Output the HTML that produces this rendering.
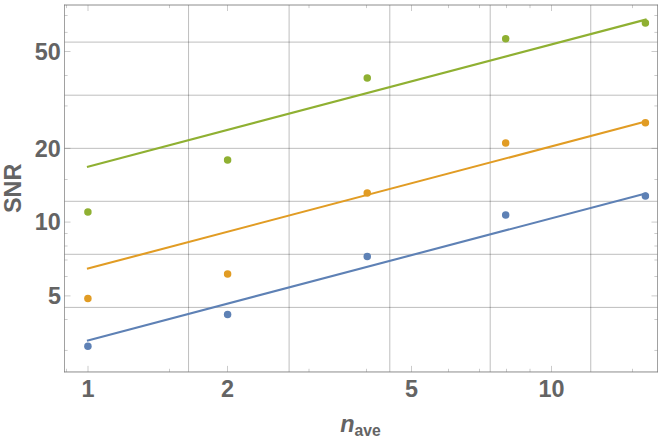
<!DOCTYPE html>
<html><head><meta charset="utf-8"><title>SNR vs n_ave</title>
<style>html,body{margin:0;padding:0;background:#fff;}body{width:664px;height:440px;overflow:hidden;font-family:"Liberation Sans",sans-serif;}svg{display:block;}.g path{vector-effect:non-scaling-stroke;}</style>
</head><body>
<svg width="664" height="440" viewBox="0 0 664 440" role="img" aria-label="Log-log plot of SNR versus n_ave with three data series and square-root fit lines">
<g stroke="#000" stroke-opacity="0.260" stroke-width="1.00" fill="none">
<line x1="188.55" y1="5.00" x2="188.55" y2="371.90"/>
<line x1="289.10" y1="5.00" x2="289.10" y2="371.90"/>
<line x1="389.80" y1="5.00" x2="389.80" y2="371.90"/>
<line x1="490.20" y1="5.00" x2="490.20" y2="371.90"/>
<line x1="590.75" y1="5.00" x2="590.75" y2="371.90"/>
<line x1="64.50" y1="42.10" x2="657.50" y2="42.10"/>
<line x1="64.50" y1="95.20" x2="657.50" y2="95.20"/>
<line x1="64.50" y1="148.35" x2="657.50" y2="148.35"/>
<line x1="64.50" y1="201.30" x2="657.50" y2="201.30"/>
<line x1="64.50" y1="254.30" x2="657.50" y2="254.30"/>
<line x1="64.50" y1="307.40" x2="657.50" y2="307.40"/>
</g>
<g stroke="#666" stroke-width="0.34" fill="none">
<line x1="66.50" y1="371.90" x2="66.50" y2="368.80"/>
<line x1="66.50" y1="5.00" x2="66.50" y2="8.10"/>
<line x1="88.00" y1="371.90" x2="88.00" y2="365.90"/>
<line x1="88.00" y1="5.00" x2="88.00" y2="11.00"/>
<line x1="169.50" y1="371.90" x2="169.50" y2="368.80"/>
<line x1="169.50" y1="5.00" x2="169.50" y2="8.10"/>
<line x1="227.50" y1="371.90" x2="227.50" y2="365.90"/>
<line x1="227.50" y1="5.00" x2="227.50" y2="11.00"/>
<line x1="309.00" y1="371.90" x2="309.00" y2="368.80"/>
<line x1="309.00" y1="5.00" x2="309.00" y2="8.10"/>
<line x1="366.50" y1="371.90" x2="366.50" y2="368.80"/>
<line x1="366.50" y1="5.00" x2="366.50" y2="8.10"/>
<line x1="411.50" y1="371.90" x2="411.50" y2="365.90"/>
<line x1="411.50" y1="5.00" x2="411.50" y2="11.00"/>
<line x1="448.50" y1="371.90" x2="448.50" y2="368.80"/>
<line x1="448.50" y1="5.00" x2="448.50" y2="8.10"/>
<line x1="479.50" y1="371.90" x2="479.50" y2="368.80"/>
<line x1="479.50" y1="5.00" x2="479.50" y2="8.10"/>
<line x1="506.50" y1="371.90" x2="506.50" y2="368.80"/>
<line x1="506.50" y1="5.00" x2="506.50" y2="8.10"/>
<line x1="530.00" y1="371.90" x2="530.00" y2="368.80"/>
<line x1="530.00" y1="5.00" x2="530.00" y2="8.10"/>
<line x1="551.50" y1="371.90" x2="551.50" y2="365.90"/>
<line x1="551.50" y1="5.00" x2="551.50" y2="11.00"/>
<line x1="632.50" y1="371.90" x2="632.50" y2="368.80"/>
<line x1="632.50" y1="5.00" x2="632.50" y2="8.10"/>
<line x1="64.50" y1="15.50" x2="67.60" y2="15.50"/>
<line x1="657.50" y1="15.50" x2="654.40" y2="15.50"/>
<line x1="64.50" y1="32.40" x2="67.60" y2="32.40"/>
<line x1="657.50" y1="32.40" x2="654.40" y2="32.40"/>
<line x1="64.50" y1="51.50" x2="70.50" y2="51.50"/>
<line x1="657.50" y1="51.50" x2="651.50" y2="51.50"/>
<line x1="64.50" y1="75.50" x2="67.60" y2="75.50"/>
<line x1="657.50" y1="75.50" x2="654.40" y2="75.50"/>
<line x1="64.50" y1="105.93" x2="67.60" y2="105.93"/>
<line x1="657.50" y1="105.93" x2="654.40" y2="105.93"/>
<line x1="64.50" y1="148.40" x2="70.50" y2="148.40"/>
<line x1="657.50" y1="148.40" x2="651.50" y2="148.40"/>
<line x1="64.50" y1="179.50" x2="67.60" y2="179.50"/>
<line x1="657.50" y1="179.50" x2="654.40" y2="179.50"/>
<line x1="64.50" y1="222.09" x2="70.50" y2="222.09"/>
<line x1="657.50" y1="222.09" x2="651.50" y2="222.09"/>
<line x1="64.50" y1="233.50" x2="67.60" y2="233.50"/>
<line x1="657.50" y1="233.50" x2="654.40" y2="233.50"/>
<line x1="64.50" y1="246.00" x2="67.60" y2="246.00"/>
<line x1="657.50" y1="246.00" x2="654.40" y2="246.00"/>
<line x1="64.50" y1="260.00" x2="67.60" y2="260.00"/>
<line x1="657.50" y1="260.00" x2="654.40" y2="260.00"/>
<line x1="64.50" y1="276.50" x2="67.60" y2="276.50"/>
<line x1="657.50" y1="276.50" x2="654.40" y2="276.50"/>
<line x1="64.50" y1="295.88" x2="70.50" y2="295.88"/>
<line x1="657.50" y1="295.88" x2="651.50" y2="295.88"/>
<line x1="64.50" y1="319.50" x2="67.60" y2="319.50"/>
<line x1="657.50" y1="319.50" x2="654.40" y2="319.50"/>
<line x1="64.50" y1="350.45" x2="67.60" y2="350.45"/>
<line x1="657.50" y1="350.45" x2="654.40" y2="350.45"/>
</g>
<g stroke="#666" fill="none" stroke-linecap="butt">
<line x1="64.50" y1="4.63" x2="64.50" y2="372.33" stroke-width="0.62"/>
<line x1="657.50" y1="4.63" x2="657.50" y2="372.33" stroke-width="0.62"/>
<line x1="64.19" y1="5.00" x2="657.81" y2="5.00" stroke-width="0.75"/>
<line x1="64.19" y1="371.96" x2="657.81" y2="371.96" stroke-width="0.75"/>
</g>
<g stroke-width="2.10" fill="none" stroke-linecap="butt">
<line x1="86.95" y1="340.72" x2="646.60" y2="193.17" stroke="#5E81B5"/>
<line x1="86.95" y1="268.82" x2="646.60" y2="121.27" stroke="#E19C24"/>
<line x1="86.95" y1="166.92" x2="646.60" y2="19.37" stroke="#8FB032"/>
</g>
<g fill="#5E81B5">
<circle cx="87.90" cy="346.25" r="3.75"/>
<circle cx="227.60" cy="314.50" r="3.75"/>
<circle cx="367.25" cy="256.60" r="3.75"/>
<circle cx="505.70" cy="215.00" r="3.75"/>
<circle cx="645.40" cy="196.00" r="3.75"/>
</g>
<g fill="#E19C24">
<circle cx="87.90" cy="298.50" r="3.75"/>
<circle cx="227.60" cy="274.00" r="3.75"/>
<circle cx="367.25" cy="193.10" r="3.75"/>
<circle cx="505.70" cy="142.90" r="3.75"/>
<circle cx="645.40" cy="122.75" r="3.75"/>
</g>
<g fill="#8FB032">
<circle cx="87.90" cy="212.00" r="3.75"/>
<circle cx="227.60" cy="160.00" r="3.75"/>
<circle cx="367.25" cy="77.90" r="3.75"/>
<circle cx="505.70" cy="38.75" r="3.75"/>
<circle cx="645.40" cy="23.10" r="3.75"/>
</g>
<g font-family="'Liberation Sans', sans-serif" font-weight="bold" font-size="23.4" fill="#646464" stroke="none">
<text x="60.9" y="303.8" text-anchor="end">5</text>
<text x="60.9" y="230.1" text-anchor="end">10</text>
<text x="60.9" y="156.75" text-anchor="end">20</text>
<text x="60.9" y="59.5" text-anchor="end">50</text>
<text x="88.0" y="396.8" text-anchor="middle">1</text>
<text x="227.5" y="396.8" text-anchor="middle">2</text>
<text x="411.5" y="396.8" text-anchor="middle">5</text>
<text x="551.5" y="396.8" text-anchor="middle">10</text>
<text transform="translate(21.15,188.3) rotate(-90)" text-anchor="middle">SNR</text>
<text x="340.2" y="431.7"><tspan font-style="italic">n</tspan><tspan font-size="15.7" dy="4">ave</tspan></text>
</g>
</svg>
</body></html>
